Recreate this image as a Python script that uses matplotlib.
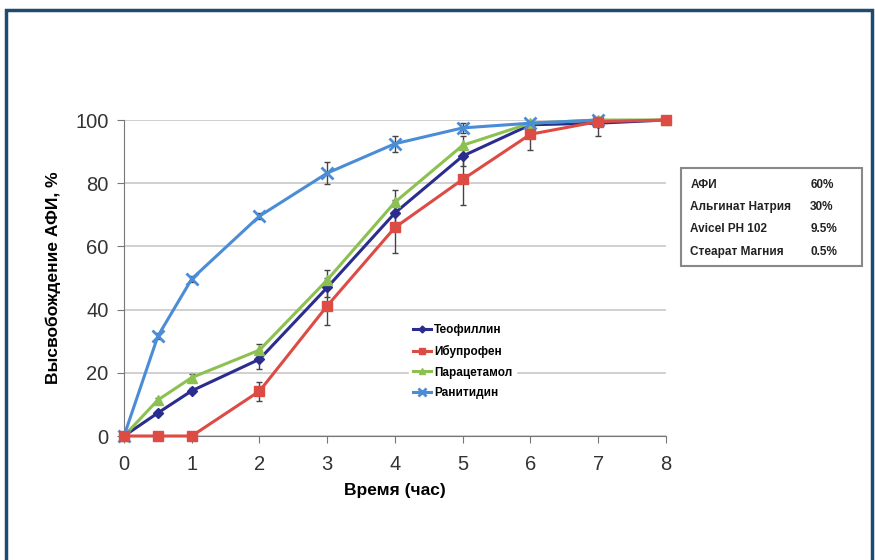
import numpy as np
import matplotlib.pyplot as plt
from matplotlib.patches import Rectangle

plt.rcParams['font.family'] = ['Liberation Sans', 'DejaVu Sans']

# time, hours
time_h = [0, 0.5, 1, 2, 3, 4, 5, 6, 7, 8]
time_ran = [0, 0.5, 1, 2, 3, 4, 5, 6, 7]

teofillin = [0, 7.3, 14.3, 24.3, 47, 70.6, 88.6, 98.5, 99, 100]
teofillin_err = [0, 0.5, 0.8, 3, 3, 4, 3, 1.5, 4, 0]
ibuprofen = [0, 0, 0, 14.2, 41.2, 66, 81.2, 95.5, 99.5, 100]
ibuprofen_err = [0, 0, 0, 3, 6, 8, 8, 5, 1, 0]
paracetamol = [0, 11.4, 18.5, 27.2, 49.4, 74, 92, 99, 100, 100]
paracetamol_err = [0, 0.5, 1, 2, 3, 4, 3, 1, 0.5, 0]
ranitidine = [0, 31.6, 49.7, 69.6, 83.2, 92.5, 97.5, 99, 100]
ranitidine_err = [0, 1, 1, 1, 3.5, 2.5, 1.5, 1, 0.5]

series_names = ['Теофиллин', 'Ибупрофен', 'Парацетамол', 'Ранитидин']
composition = ['АФИ', 'Альгинат Натрия', 'Avicel PH 102', 'Стеарат Магния']
composition_pct = ['60%', '30%', '9.5%', '0.5%']

fig = plt.figure(figsize=(8.75, 5.6), dpi=100)
ax = fig.add_axes([0.1417, 0.2214, 0.6194, 0.5643])

# outer frame
fig.patches.append(Rectangle((0.007, -0.05), 0.99, 1.032, transform=fig.transFigure,
                             fill=False, edgecolor='#1F4A72', linewidth=2.5))

ax.plot(time_h, teofillin, color='#2A2C8E', marker='D', markersize=5, lw=2.2,
        label=series_names[0], zorder=3, clip_on=False)
ax.errorbar(time_h, teofillin, yerr=teofillin_err, fmt='none', ecolor='#444444', elinewidth=1, capsize=2, zorder=2)
ax.plot(time_h, paracetamol, color='#8CC152', marker='^', markersize=7, lw=2.2,
        label=series_names[2], zorder=4, clip_on=False)
ax.errorbar(time_h, paracetamol, yerr=paracetamol_err, fmt='none', ecolor='#444444', elinewidth=1, capsize=2, zorder=2)
ax.plot(time_h, ibuprofen, color='#DD4B45', marker='s', markersize=7, lw=2.2,
        label=series_names[1], zorder=5, clip_on=False)
ax.errorbar(time_h, ibuprofen, yerr=ibuprofen_err, fmt='none', ecolor='#444444', elinewidth=1, capsize=2, zorder=2)
ax.plot(time_ran, ranitidine, color='#4A8DD6', marker='x', markersize=9, mew=2, lw=2.2,
        label=series_names[3], zorder=4.5, clip_on=False)
ax.errorbar(time_ran, ranitidine, yerr=ranitidine_err, fmt='none', ecolor='#444444', elinewidth=1, capsize=2, zorder=2)

ax.set_xlim(0, 8)
ax.set_ylim(0, 100)
ax.set_xticks(range(0, 9))
ax.set_yticks(range(0, 101, 20))
ax.yaxis.grid(True, color='#C8C8C8', lw=1.2)
ax.set_axisbelow(True)
for s in ['top', 'right']:
    ax.spines[s].set_visible(False)
ax.spines['left'].set_color('#777777')
ax.spines['bottom'].set_color('#777777')
ax.tick_params(axis='both', labelsize=14.5, colors='#777777', labelcolor='#333333', length=5)
ax.tick_params(axis='x', pad=9)
ax.tick_params(axis='y', pad=6)
ax.set_xlabel('Время (час)', fontsize=12.5, fontweight='bold', labelpad=6)
ax.set_ylabel('Высвобождение АФИ, %', fontsize=12.5, fontweight='bold', labelpad=10)

handles, labels = ax.get_legend_handles_labels()
order = [0, 2, 1, 3]
leg = ax.legend([handles[i] for i in order], [labels[i] for i in order],
                loc='upper left', bbox_to_anchor=(0.515, 0.385), frameon=True,
                prop={'weight': 'bold', 'size': 8.5}, handlelength=1.6,
                handletextpad=0.2, labelspacing=0.75, borderpad=0.3, markerscale=0.7)
leg.get_frame().set_edgecolor('white')
leg.get_frame().set_facecolor('white')
leg.get_frame().set_alpha(1)

# composition box
fig.patches.append(Rectangle((0.778, 0.525), 0.207, 0.175, transform=fig.transFigure,
                             fill=False, edgecolor='#888888', linewidth=1.5))
ys = [0.669, 0.630, 0.591, 0.550]
for name, pct, yy in zip(composition, composition_pct, ys):
    fig.text(0.789, yy, name, fontsize=8.5, fontweight='bold', color='#222222', va='center')
    fig.text(0.926, yy, pct, fontsize=8.5, fontweight='bold', color='#222222', va='center')

plt.savefig('out.png', dpi=100)
